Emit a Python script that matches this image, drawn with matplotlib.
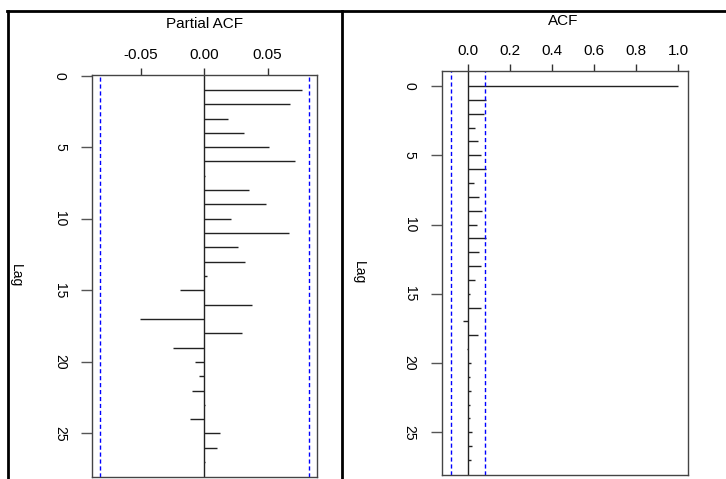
import numpy as np
import matplotlib
matplotlib.use("Agg")
import matplotlib.pyplot as plt
from matplotlib.lines import Line2D

plt.rcParams['font.family'] = ['Liberation Sans', 'DejaVu Sans']

# values
pacf_lags = list(range(1, 28))
pacf_vals = [0.077, 0.068, 0.019, 0.031, 0.051, 0.072, 0.0005, 0.035, 0.049,
             0.021, 0.067, 0.027, 0.032, 0.0025, -0.019, 0.038, -0.051, 0.030,
             -0.025, -0.007, -0.004, -0.0095, 0.0005, -0.011, 0.012, 0.010, 0.0005]
acf_lags = list(range(0, 28))
acf_vals = [1.0, 0.084, 0.076, 0.032, 0.046, 0.060, 0.084, 0.027, 0.054, 0.067,
            0.043, 0.086, 0.054, 0.060, 0.032, 0.008, 0.060, -0.024, 0.049,
            -0.006, 0.014, 0.008, 0.014, 0.008, 0.008, 0.021, 0.021, 0.014]
ci = 0.0823
pacf_ticks = [-0.05, 0.0, 0.05]
pacf_ticklabels = ['-0.05', '0.00', '0.05']
acf_ticks = [0.0, 0.2, 0.4, 0.6, 0.8, 1.0]
acf_ticklabels = ['0.0', '0.2', '0.4', '0.6', '0.8', '1.0']
lag_ticks = [0, 5, 10, 15, 20, 25]

W, H = 726, 479
fig = plt.figure(figsize=(W / 100, H / 100), dpi=100)


def px_axes(x0, y0, x1, y1):
    return fig.add_axes([x0 / W, (H - y1) / H, (x1 - x0) / W, (y1 - y0) / H])


def style(ax, xticks, xlabels, xpad):
    ax.set_yticks(lag_ticks)
    ax.set_yticklabels([str(t) for t in lag_ticks], rotation=270, fontsize=10,
                       va='center')
    ax.set_xticks(xticks)
    ax.set_xticklabels(xlabels, fontsize=11)
    ax.xaxis.tick_top()
    ax.tick_params(axis='x', length=5, width=1, color='#333333', pad=xpad)
    ax.tick_params(axis='y', length=8, width=1, color='#555555', pad=10)
    for s in ax.spines.values():
        s.set_color('#444444')
        s.set_linewidth(1)


# Partial ACF panel
ax1 = px_axes(92, 75, 317, 477)
ax1.hlines(pacf_lags, 0, pacf_vals, color='#222222', lw=1)
ax1.axvline(0, color='#222222', lw=1)
ax1.axvline(ci, color='blue', lw=1, ls=(0, (3, 2)))
ax1.axvline(-ci, color='blue', lw=1, ls=(0, (3, 2)))
ax1.set_xlim(-0.0887, 0.089)
ax1.set_ylim(28.04, -0.04)
style(ax1, pacf_ticks, pacf_ticklabels, 4.5)
fig.text(204.5 / W, 1 - 24 / H, 'Partial ACF', fontsize=11,
         ha='center', va='center')
fig.text(16 / W, 1 - 276 / H, 'Lag', rotation=270, fontsize=10,
         ha='center', va='center')

# ACF panel
ax2 = px_axes(441.7, 71, 687.7, 475)
ax2.hlines(acf_lags, 0, acf_vals, color='#222222', lw=1)
ax2.axvline(0, color='#222222', lw=1)
ax2.axvline(ci, color='blue', lw=1, ls=(0, (3, 2)))
ax2.axvline(-ci, color='blue', lw=1, ls=(0, (3, 2)))
ax2.set_xlim(-0.125, 1.046)
ax2.set_ylim(28.08, -1.08)
style(ax2, acf_ticks, acf_ticklabels, 4)
fig.text(563 / W, 1 - 21 / H, 'ACF', fontsize=11, ha='center', va='center')
fig.text(359 / W, 1 - 273 / H, 'Lag', rotation=270, fontsize=10,
         ha='center', va='center')

# outer frame lines
ytop = 1 - 11.3 / H
fig.add_artist(Line2D([7 / W, 1], [ytop, ytop], color='black', lw=2,
                      transform=fig.transFigure))
fig.add_artist(Line2D([8.3 / W, 8.3 / W], [0, ytop], color='black', lw=2,
                      transform=fig.transFigure))
fig.add_artist(Line2D([341.5 / W, 341.5 / W], [0, ytop], color='black', lw=2,
                      transform=fig.transFigure))

fig.savefig('out.png', dpi=100)
